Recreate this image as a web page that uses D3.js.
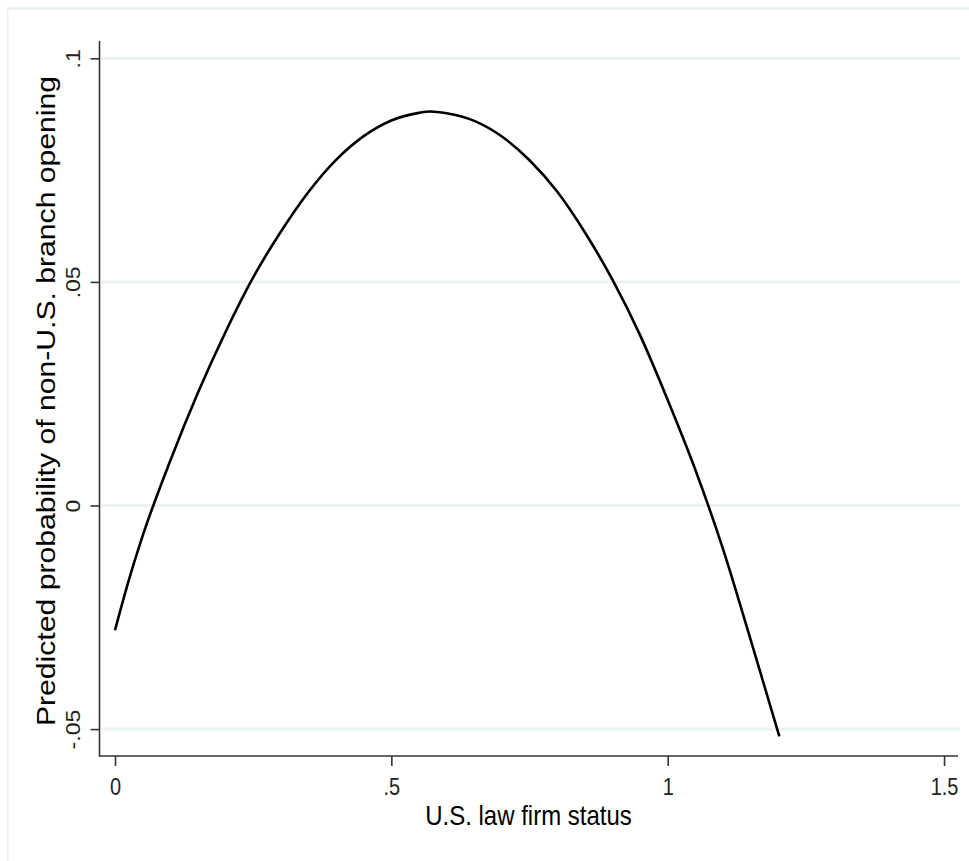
<!DOCTYPE html>
<html>
<head>
<meta charset="utf-8">
<script src="https://cdn.jsdelivr.net/npm/d3@7"></script>
<style>
  html, body { margin: 0; padding: 0; background: #fff; }
  svg { display: block; }
</style>
</head>
<body>
<script>
// ---- data ----
const statusValues = [0.000, 0.025, 0.050, 0.100, 0.150, 0.200, 0.250, 0.300, 0.350, 0.400, 0.450, 0.500, 0.550, 0.570, 0.600, 0.650, 0.700, 0.750, 0.800, 0.850, 0.900, 0.950, 1.000, 1.050, 1.100, 1.150, 1.202];
const probValues   = [-0.0279, -0.0167, -0.0068, 0.0100, 0.0252, 0.0388, 0.0510, 0.0612, 0.0701, 0.0773, 0.0826, 0.0861, 0.0878, 0.0881, 0.0877, 0.0860, 0.0825, 0.0772, 0.0702, 0.0611, 0.0505, 0.0381, 0.0236, 0.0080, -0.0097, -0.0300, -0.0516];
const xTickValues = [0, 0.5, 1, 1.5];
const xTickLabels = ["0", ".5", "1", "1.5"];
const yTickValues = [-0.05, 0, 0.05, 0.1];
const yTickLabels = ["-.05", "0", ".05", ".1"];
const xTitle = "U.S. law firm status";
const yTitle = "Predicted probability of non-U.S. branch opening";

const W = 969, H = 861;
const FONT = "'Liberation Sans', Arial, Helvetica, sans-serif";
const STRETCH = 1.15;

const svg = d3.select("body").append("svg").attr("width", W).attr("height", H);

// outer frame (light border)
const frameCol = "#eaf2f3";
svg.append("rect").attr("x", 7).attr("y", 7).attr("width", W - 7).attr("height", 3).attr("fill", frameCol);
svg.append("rect").attr("x", 7).attr("y", 7).attr("width", 1.6).attr("height", H - 7).attr("fill", frameCol);

// scales
const x = d3.scaleLinear().domain([0, 1]).range([115, 667.7]);
const y = d3.scaleLinear().domain([-0.05, 0.1]).range([729.1, 58.3]);

const plotLeft = 99.5, plotRight = 958, plotTop = 41, plotBottom = 756;

// gridlines
svg.append("g").selectAll("line").data(yTickValues).join("line")
  .attr("x1", plotLeft + 2).attr("x2", 960)
  .attr("y1", d => y(d)).attr("y2", d => y(d))
  .attr("stroke", frameCol).attr("stroke-width", 3);

// y axis
const yAxis = d3.axisLeft(y).tickValues(yTickValues).tickSize(9).tickSizeOuter(0)
  .tickFormat((d, i) => yTickLabels[i]);
const gy = svg.append("g").attr("transform", `translate(${plotLeft},0)`).call(yAxis);
gy.select(".domain").remove();
gy.append("line").attr("x1", 0).attr("x2", 0).attr("y1", plotTop).attr("y2", plotBottom + 0.8)
  .attr("stroke", "#333").attr("stroke-width", 1.6);
gy.selectAll(".tick line").attr("stroke", "#333").attr("stroke-width", 1.6);
gy.selectAll(".tick text")
  .attr("x", null).attr("dy", null)
  .attr("font-family", FONT).attr("font-size", 20).attr("fill", "#222")
  .attr("text-anchor", "middle")
  .attr("transform", `translate(-19.5,0) rotate(-90) scale(${STRETCH},1)`);

// x axis
const xAxis = d3.axisBottom(x).tickValues(xTickValues).tickSize(10).tickSizeOuter(0)
  .tickFormat((d, i) => xTickLabels[i]);
const gx = svg.append("g").attr("transform", `translate(0,${plotBottom})`).call(xAxis);
gx.select(".domain").remove();
gx.append("line").attr("x1", plotLeft).attr("x2", plotRight).attr("y1", 0).attr("y2", 0)
  .attr("stroke", "#333").attr("stroke-width", 1.6);
gx.selectAll(".tick line").attr("stroke", "#333").attr("stroke-width", 1.6);
gx.selectAll(".tick text")
  .attr("y", null).attr("dy", null)
  .attr("font-family", FONT).attr("font-size", 20).attr("fill", "#222")
  .attr("transform", `translate(0,39) scale(1,${STRETCH})`);

// titles
svg.append("text")
  .attr("transform", `translate(528.5,825) scale(1,${STRETCH})`)
  .attr("text-anchor", "middle")
  .attr("font-family", FONT).attr("font-size", 24).attr("fill", "#000")
  .text(xTitle);
svg.append("text")
  .attr("transform", `translate(55,401) rotate(-90) scale(1.16,1)`)
  .attr("text-anchor", "middle")
  .attr("font-family", FONT).attr("font-size", 26).attr("fill", "#000")
  .text(yTitle);

// curve
const pts = statusValues.map((v, i) => [v, probValues[i]]);
const line = d3.line().x(d => x(d[0])).y(d => y(d[1])).curve(d3.curveMonotoneX);
svg.append("path").datum(pts)
  .attr("d", line)
  .attr("fill", "none").attr("stroke", "#000").attr("stroke-width", 2.6)
  .attr("stroke-linejoin", "round");
</script>
</body>
</html>
